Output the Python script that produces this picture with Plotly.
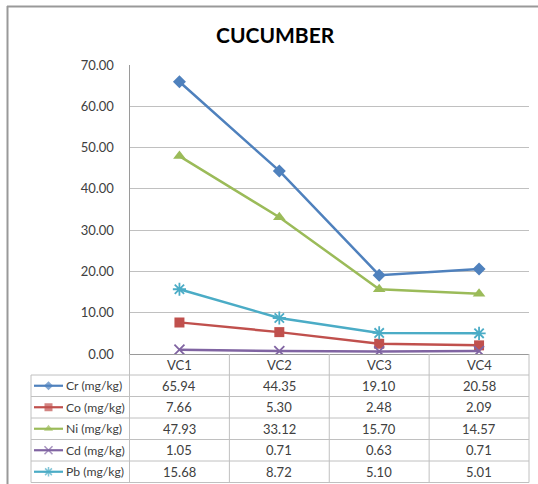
import plotly.graph_objects as go

categories = ["VC1", "VC2", "VC3", "VC4"]
series_names = ["Cr (mg/kg)", "Co (mg/kg)", "Ni (mg/kg)", "Cd (mg/kg)", "Pb (mg/kg)"]
cr = [65.94, 44.35, 19.10, 20.58]
co = [7.66, 5.30, 2.48, 2.09]
ni = [47.93, 33.12, 15.70, 14.57]
cd = [1.05, 0.71, 0.63, 0.71]
pb = [15.68, 8.72, 5.10, 5.01]
title_text = "CUCUMBER"
y_ticks = [0, 10, 20, 30, 40, 50, 60, 70]

series_values = [cr, co, ni, cd, pb]
colors = ["#4F81BD", "#C0504D", "#9BBB59", "#8064A2", "#4BACC6"]
symbols = ["diamond", "square", "triangle-up", "x-thin-open", "asterisk-open"]
msizes = [10, 10, 11, 10, 11]
key_sizes = [7, 8, 8, 8, 8]

W, H = 538, 484
FONT = "Lato, Carlito, Calibri, sans-serif"
TXT = "#404040"
GRID = "#C0C0C0"
FS = 13
FS_LEG = 12.2

# pixel geometry
px_left, px_right, px_top, px_bottom = 129.5, 529, 65, 354
col_edges = [px_left + i * (px_right - px_left) / 4 for i in range(5)]
tbl_left = 31
row_edges = [375, 396.5, 418, 439.5, 461, 482.5]

fig = go.Figure()

for name, vals, c, s, ms in zip(series_names, series_values, colors, symbols, msizes):
    fig.add_trace(go.Scatter(
        x=categories, y=vals, mode="lines+markers", name=name,
        line=dict(color=c, width=2.5),
        marker=dict(symbol=s, size=ms, color=c, line=dict(color=c, width=1.8 if "open" in s else 0)),
        xaxis="x", yaxis="y", showlegend=False,
    ))

# legend keys in the data table (pixel overlay axes)
for i, (name, c, s, ks) in enumerate(zip(series_names, colors, symbols, key_sizes)):
    yc = (row_edges[i] + row_edges[i + 1]) / 2
    fig.add_trace(go.Scatter(
        x=[34, 48.5, 63], y=[yc, yc, yc], mode="lines+markers",
        line=dict(color=c, width=2.2),
        marker=dict(symbol=s, size=[0, ks, 0], color=c,
                    line=dict(color=c, width=1.5 if "open" in s else 0)),
        xaxis="x2", yaxis="y2", showlegend=False, hoverinfo="skip",
    ))

shapes = []
line_style = dict(color=GRID, width=1)
for xe in col_edges:
    shapes.append(dict(type="line", xref="x2", yref="y2", x0=xe, x1=xe, y0=px_bottom, y1=row_edges[-1], line=line_style))
shapes.append(dict(type="line", xref="x2", yref="y2", x0=tbl_left, x1=tbl_left, y0=row_edges[0], y1=row_edges[-1], line=line_style))
for ye in row_edges:
    shapes.append(dict(type="line", xref="x2", yref="y2", x0=tbl_left, x1=px_right, y0=ye, y1=ye, line=line_style))
border = dict(color="#999999", width=2)
shapes.append(dict(type="line", xref="x2", yref="y2", x0=7, x1=540, y0=6.5, y1=6.5, line=border))
shapes.append(dict(type="line", xref="x2", yref="y2", x0=7.5, x1=7.5, y0=6, y1=490, line=border))

annotations = []
annotations.append(dict(text="<b>" + title_text + "</b>", x=275, y=34, xref="x2", yref="y2",
                        showarrow=False, font=dict(family=FONT, size=21, color="#000000"),
                        xanchor="center", yanchor="middle"))
for j, cat in enumerate(categories):
    annotations.append(dict(text=cat, x=cat, y=365, xref="x", yref="y2", showarrow=False,
                            font=dict(family=FONT, size=FS, color=TXT), xanchor="center", yanchor="middle"))
for i, (name, vals) in enumerate(zip(series_names, series_values)):
    yc = (row_edges[i] + row_edges[i + 1]) / 2
    annotations.append(dict(text=name, x=63.5, y=yc, xref="x2", yref="y2", showarrow=False,
                            font=dict(family=FONT, size=FS_LEG, color=TXT), xanchor="left", yanchor="middle"))
    for cat, v in zip(categories, vals):
        annotations.append(dict(text=f"{v:.2f}", x=cat, y=yc, xref="x", yref="y2", showarrow=False,
                                font=dict(family=FONT, size=FS, color=TXT), xanchor="center", yanchor="middle"))

fig.update_layout(
    width=W, height=H,
    margin=dict(l=0, r=0, t=0, b=0, pad=0, autoexpand=False),
    paper_bgcolor="white", plot_bgcolor="rgba(0,0,0,0)",
    font=dict(family=FONT, size=FS, color=TXT),
    xaxis=dict(domain=[px_left / W, px_right / W], range=[-0.5, 3.5], type="category",
               showticklabels=False, showgrid=False, zeroline=False, anchor="y", automargin=False,
               showline=True, linecolor="#9A9A9A", linewidth=1, ticks=""),
    yaxis=dict(domain=[1 - px_bottom / H, 1 - px_top / H], range=[0, 70], anchor="x", automargin=False,
               tickvals=y_ticks, tickformat=".2f", showgrid=True, gridcolor=GRID, gridwidth=1,
               zeroline=False, showline=True, linecolor="#9A9A9A", linewidth=1,
               ticks="", ticklabelstandoff=12,
               tickfont=dict(family=FONT, size=FS, color=TXT)),
    xaxis2=dict(domain=[0, 1], range=[0, W], visible=False, anchor="y2", fixedrange=True, automargin=False),
    yaxis2=dict(domain=[0, 1], range=[H, 0], visible=False, anchor="x2", fixedrange=True, automargin=False),
    shapes=shapes,
    annotations=annotations,
)

fig.write_html("out.html", config={"displayModeBar": False, "staticPlot": True},
               post_script="document.body.style.margin='0';document.body.style.overflow='hidden';")
